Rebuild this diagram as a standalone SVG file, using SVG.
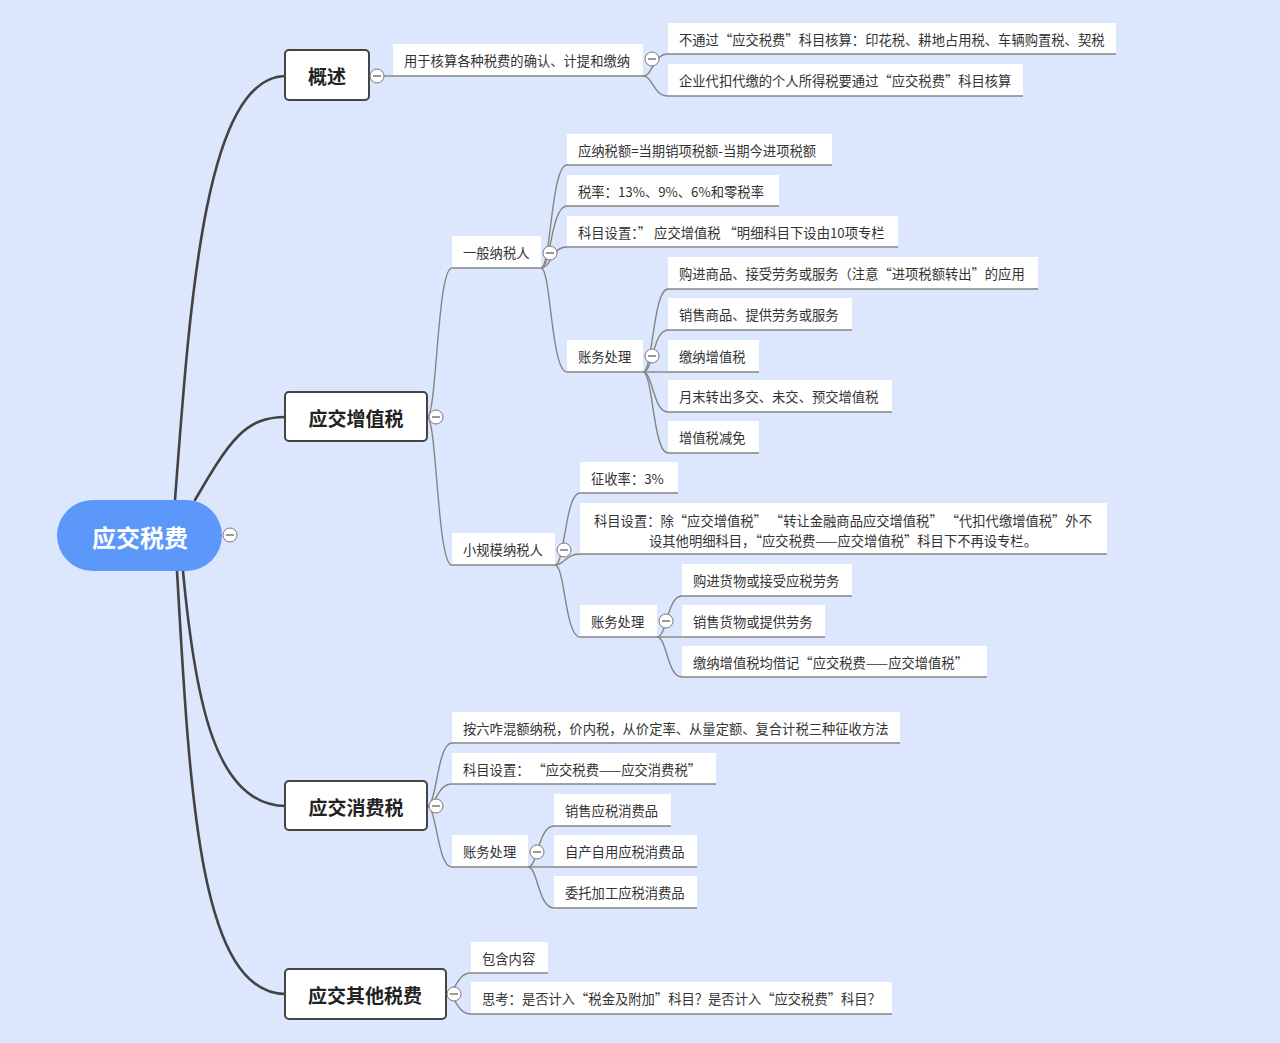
<svg xmlns="http://www.w3.org/2000/svg" width="1280" height="1043" viewBox="0 0 1280 1043">
<style>
text{font-family:"Noto Sans CJK SC","Noto Sans",sans-serif;}
.t{font-size:13.3px;fill:#333;dominant-baseline:central;}
.mt{font-size:19px;font-weight:bold;fill:#222;text-anchor:middle;dominant-baseline:central;}
.rt{font-size:24px;font-weight:bold;fill:#fff;text-anchor:middle;dominant-baseline:central;}
.box{fill:#fff;}
.ul{stroke:#858585;stroke-width:1.4;fill:none;}
.mb{fill:#fff;stroke:#444;stroke-width:2;}
.c1{fill:none;stroke:#434343;stroke-width:2.6;stroke-linecap:round;}
.c2{fill:none;stroke:#858585;stroke-width:1.4;}
.cl{fill:#fff;stroke:#7a7a7a;stroke-width:1;}
.cm{stroke:#555;stroke-width:1.2;}
</style>
<defs>
<g id="col"><circle class="cl" cx="0" cy="0" r="7"/><line class="cm" x1="-4" y1="0" x2="4" y2="0"/></g>
</defs>
<rect x="0" y="0" width="1280" height="1043" fill="#DCE6FC"/>

<g id="connectors">
<path class="c1" d="M175,500 C190,300 205,76 286,76"/>
<path class="c1" d="M195,500 C230,440 245,417 286,417"/>
<path class="c1" d="M183,571 C195,700 215,806 286,806"/>
<path class="c1" d="M177,571 C190,800 200,994 286,994"/>
<path class="c2" d="M369,76 L393,76"/>
<path class="c2" d="M643,76 C653,76 653,54 668,54"/>
<path class="c2" d="M643,76 C653,76 653,96 668,96"/>
<path class="c2" d="M427,417 C437,417 437,268 452,268"/>
<path class="c2" d="M427,417 C437,417 437,565 452,565"/>
<path class="c2" d="M541,268 C551,268 551,165 567,165"/>
<path class="c2" d="M541,268 C551,268 551,206 567,206"/>
<path class="c2" d="M541,268 C551,268 551,247 567,247"/>
<path class="c2" d="M541,268 C551,268 551,372 567,372"/>
<path class="c2" d="M643,372 C653,372 653,289 668,289"/>
<path class="c2" d="M643,372 C653,372 653,330 668,330"/>
<path class="c2" d="M643,372 L668,372"/>
<path class="c2" d="M643,372 C653,372 653,412 668,412"/>
<path class="c2" d="M643,372 C653,372 653,453 668,453"/>
<path class="c2" d="M555,565 C565,565 565,493 580,493"/>
<path class="c2" d="M555,565 C565,565 565,554 580,554"/>
<path class="c2" d="M555,565 C565,565 565,637 580,637"/>
<path class="c2" d="M657,637 C667,637 667,596 682,596"/>
<path class="c2" d="M657,637 L682,637"/>
<path class="c2" d="M657,637 C667,637 667,677 682,677"/>
<path class="c2" d="M427,806 C437,806 437,743 452,743"/>
<path class="c2" d="M427,806 C437,806 437,784 452,784"/>
<path class="c2" d="M427,806 C437,806 437,867 452,867"/>
<path class="c2" d="M528,867 C538,867 538,826 554,826"/>
<path class="c2" d="M528,867 L554,867"/>
<path class="c2" d="M528,867 C538,867 538,908 554,908"/>
<path class="c2" d="M446,994 C456,994 456,973 471,973"/>
<path class="c2" d="M446,994 C456,994 456,1014 471,1014"/>
</g>

<g id="root"><rect x="57" y="500" width="165" height="71" rx="35.5" fill="#5B98FA"/><text class="rt" x="140" y="536">应交税费</text></g>

<g id="n-gaishu"><rect class="mb" x="285" y="50" width="84" height="50" rx="4"/><text class="mt" x="327" y="75">概述</text></g>
<g id="n-zzs"><rect class="mb" x="285" y="392" width="142" height="49" rx="4"/><text class="mt" x="356" y="417">应交增值税</text></g>
<g id="n-xfs"><rect class="mb" x="285" y="781" width="142" height="49" rx="4"/><text class="mt" x="356" y="806">应交消费税</text></g>
<g id="n-qt"><rect class="mb" x="285" y="969" width="161" height="50" rx="4"/><text class="mt" x="365" y="994">应交其他税费</text></g>

<g id="a1"><rect class="box" x="393" y="44" width="250" height="32"/><line class="ul" x1="393" y1="76" x2="643" y2="76"/><text class="t" x="404" y="60">用于核算各种税费的确认、计提和缴纳</text></g>
<g id="a1a"><rect class="box" x="668" y="23" width="448" height="31"/><line class="ul" x1="668" y1="54" x2="1116" y2="54"/><text class="t" x="679" y="39">不通过“应交税费”科目核算：印花税、耕地占用税、车辆购置税、契税</text></g>
<g id="a1b"><rect class="box" x="668" y="64" width="355" height="32"/><line class="ul" x1="668" y1="96" x2="1023" y2="96"/><text class="t" x="679" y="80">企业代扣代缴的个人所得税要通过“应交税费”科目核算</text></g>

<g id="b1"><rect class="box" x="452" y="236" width="89" height="32"/><line class="ul" x1="452" y1="268" x2="541" y2="268"/><text class="t" x="463" y="252">一般纳税人</text></g>
<g id="b1a"><rect class="box" x="567" y="134" width="265" height="31"/><line class="ul" x1="567" y1="165" x2="832" y2="165"/><text class="t" x="578" y="150">应纳税额=当期销项税额-当期今进项税额</text></g>
<g id="b1b"><rect class="box" x="567" y="175" width="212" height="31"/><line class="ul" x1="567" y1="206" x2="779" y2="206"/><text class="t" x="578" y="191">税率：13%、9%、6%和零税率</text></g>
<g id="b1c"><rect class="box" x="567" y="216" width="331" height="31"/><line class="ul" x1="567" y1="247" x2="898" y2="247"/><text class="t" x="578" y="232">科目设置：” 应交增值税 “明细科目下设由10项专栏</text></g>
<g id="b1d"><rect class="box" x="567" y="340" width="76" height="32"/><line class="ul" x1="567" y1="372" x2="643" y2="372"/><text class="t" x="578" y="356">账务处理</text></g>
<g id="b1d1"><rect class="box" x="668" y="257" width="370" height="32"/><line class="ul" x1="668" y1="289" x2="1038" y2="289"/><text class="t" x="679" y="273">购进商品、接受劳务或服务（注意“进项税额转出”的应用</text></g>
<g id="b1d2"><rect class="box" x="668" y="298" width="184" height="32"/><line class="ul" x1="668" y1="330" x2="852" y2="330"/><text class="t" x="679" y="314">销售商品、提供劳务或服务</text></g>
<g id="b1d3"><rect class="box" x="668" y="340" width="91" height="32"/><line class="ul" x1="668" y1="372" x2="759" y2="372"/><text class="t" x="679" y="356">缴纳增值税</text></g>
<g id="b1d4"><rect class="box" x="668" y="380" width="224" height="32"/><line class="ul" x1="668" y1="412" x2="892" y2="412"/><text class="t" x="679" y="396">月末转出多交、未交、预交增值税</text></g>
<g id="b1d5"><rect class="box" x="668" y="421" width="91" height="32"/><line class="ul" x1="668" y1="453" x2="759" y2="453"/><text class="t" x="679" y="437">增值税减免</text></g>

<g id="b2"><rect class="box" x="452" y="533" width="103" height="32"/><line class="ul" x1="452" y1="565" x2="555" y2="565"/><text class="t" x="463" y="549">小规模纳税人</text></g>
<g id="b2a"><rect class="box" x="580" y="462" width="98" height="31"/><line class="ul" x1="580" y1="493" x2="678" y2="493"/><text class="t" x="591" y="478">征收率：3%</text></g>
<g id="b2b"><rect class="box" x="580" y="503" width="527" height="51"/><line class="ul" x1="580" y1="554" x2="1107" y2="554"/><text class="t" x="843" y="520" text-anchor="middle">科目设置：除“应交增值税” “转让金融商品应交增值税” “代扣代缴增值税”外不</text><text class="t" x="843" y="540" text-anchor="middle">设其他明细科目，“应交税费——应交增值税”科目下不再设专栏。</text></g>
<g id="b2c"><rect class="box" x="580" y="605" width="77" height="32"/><line class="ul" x1="580" y1="637" x2="657" y2="637"/><text class="t" x="591" y="621">账务处理</text></g>
<g id="b2c1"><rect class="box" x="682" y="564" width="170" height="32"/><line class="ul" x1="682" y1="596" x2="852" y2="596"/><text class="t" x="693" y="580">购进货物或接受应税劳务</text></g>
<g id="b2c2"><rect class="box" x="682" y="605" width="143" height="32"/><line class="ul" x1="682" y1="637" x2="825" y2="637"/><text class="t" x="693" y="621">销售货物或提供劳务</text></g>
<g id="b2c3"><rect class="box" x="682" y="646" width="305" height="31"/><line class="ul" x1="682" y1="677" x2="987" y2="677"/><text class="t" x="693" y="662">缴纳增值税均借记“应交税费——应交增值税”</text></g>

<g id="c1"><rect class="box" x="452" y="712" width="448" height="31"/><line class="ul" x1="452" y1="743" x2="900" y2="743"/><text class="t" x="463" y="728">按六咋混额纳税，价内税，从价定率、从量定额、复合计税三种征收方法</text></g>
<g id="c2"><rect class="box" x="452" y="753" width="264" height="31"/><line class="ul" x1="452" y1="784" x2="716" y2="784"/><text class="t" x="463" y="769">科目设置： “应交税费——应交消费税”</text></g>
<g id="c3"><rect class="box" x="452" y="835" width="76" height="32"/><line class="ul" x1="452" y1="867" x2="528" y2="867"/><text class="t" x="463" y="851">账务处理</text></g>
<g id="c3a"><rect class="box" x="554" y="794" width="117" height="32"/><line class="ul" x1="554" y1="826" x2="671" y2="826"/><text class="t" x="565" y="810">销售应税消费品</text></g>
<g id="c3b"><rect class="box" x="554" y="835" width="143" height="32"/><line class="ul" x1="554" y1="867" x2="697" y2="867"/><text class="t" x="565" y="851">自产自用应税消费品</text></g>
<g id="c3c"><rect class="box" x="554" y="876" width="143" height="32"/><line class="ul" x1="554" y1="908" x2="697" y2="908"/><text class="t" x="565" y="892">委托加工应税消费品</text></g>

<g id="d1"><rect class="box" x="471" y="942" width="77" height="31"/><line class="ul" x1="471" y1="973" x2="548" y2="973"/><text class="t" x="482" y="958">包含内容</text></g>
<g id="d2"><rect class="box" x="471" y="982" width="421" height="32"/><line class="ul" x1="471" y1="1014" x2="892" y2="1014"/><text class="t" x="482" y="998">思考：是否计入“税金及附加”科目？是否计入“应交税费”科目？</text></g>

<g id="collapse">
<use href="#col" x="230" y="535"/>
<use href="#col" x="377" y="76"/>
<use href="#col" x="652" y="59"/>
<use href="#col" x="436" y="417"/>
<use href="#col" x="550" y="253"/>
<use href="#col" x="652" y="356"/>
<use href="#col" x="564" y="550"/>
<use href="#col" x="666" y="621"/>
<use href="#col" x="436" y="806"/>
<use href="#col" x="537" y="852"/>
<use href="#col" x="454" y="994"/>
</g>
</svg>
